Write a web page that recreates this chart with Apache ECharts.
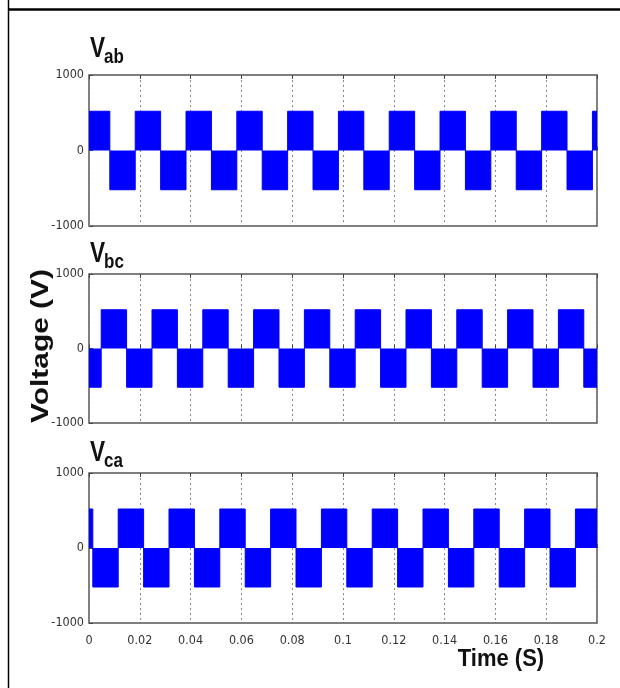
<!DOCTYPE html>
<html>
<head>
<meta charset="utf-8">
<script src="https://cdn.jsdelivr.net/npm/echarts@6/dist/echarts.min.js"></script>
<style>
html,body{margin:0;padding:0;background:#fff;}
#chart{width:620px;height:688px;}
</style>
</head>
<body>
<div id="chart"></div>
<script>
// ---- data ----
const timeTickLabels = ['0','0.02','0.04','0.06','0.08','0.1','0.12','0.14','0.16','0.18','0.2'];
const voltTickLabels = ['-1000','0','1000'];

const vabTimes  = [0, 0.0082, 0.0182, 0.0282, 0.0382, 0.0482, 0.0582, 0.0682, 0.0782, 0.0882, 0.0982,
                   0.1082, 0.1182, 0.1282, 0.1382, 0.1482, 0.1582, 0.1682, 0.1782, 0.1882, 0.1982, 0.2];
const vabLevels = [520, -520, 520, -520, 520, -520, 520, -520, 520, -520, 520,
                   -520, 520, -520, 520, -520, 520, -520, 520, -520, 520, 520];

const vbcTimes  = [0, 0.0048, 0.0148, 0.0248, 0.0348, 0.0448, 0.0548, 0.0648, 0.0748, 0.0848, 0.0948,
                   0.1048, 0.1148, 0.1248, 0.1348, 0.1448, 0.1548, 0.1648, 0.1748, 0.1848, 0.1948, 0.2];
const vbcLevels = [-520, 520, -520, 520, -520, 520, -520, 520, -520, 520, -520,
                   520, -520, 520, -520, 520, -520, 520, -520, 520, -520, -520];

const vcaTimes  = [0, 0.0015, 0.0115, 0.0215, 0.0315, 0.0415, 0.0515, 0.0615, 0.0715, 0.0815, 0.0915,
                   0.1015, 0.1115, 0.1215, 0.1315, 0.1415, 0.1515, 0.1615, 0.1715, 0.1815, 0.1915, 0.2];
const vcaLevels = [520, -520, 520, -520, 520, -520, 520, -520, 520, -520, 520,
                   -520, 520, -520, 520, -520, 520, -520, 520, -520, 520, 520];

const panelNames = ['ab', 'bc', 'ca'];
// ---- chart ----
const zip = (t, v) => t.map((x, i) => [x, v[i]]);
const seriesData = [zip(vabTimes, vabLevels), zip(vbcTimes, vbcLevels), zip(vcaTimes, vcaLevels)];

const NARROW = "'Liberation Sans Narrow', 'DejaVu Sans Condensed', 'Liberation Sans', Arial, sans-serif";
const BOLD = "'Liberation Sans', Arial, sans-serif";
const grids = [
  {left: 89, top: 75, width: 508, height: 151},
  {left: 89, top: 274, width: 508, height: 149},
  {left: 89, top: 473, width: 508, height: 150}
];

const option = {
  backgroundColor: '#fff',
  animation: false,
  grid: grids.map(g => Object.assign({show: true, borderColor: '#555', borderWidth: 1.5, backgroundColor: '#fff'}, g)),
  xAxis: [],
  yAxis: [],
  series: [],
  graphic: []
};

for (let i = 0; i < 3; i++) {
  option.xAxis.push({
    type: 'value', gridIndex: i, min: 0, max: 0.2, interval: 0.02,
    axisLine: {show: false},
    axisTick: {show: true, inside: true, length: 4, lineStyle: {color: '#444'}},
    axisLabel: {
      show: i === 2, color: '#333', fontFamily: NARROW, fontSize: 12.5, margin: 11,
      formatter: v => timeTickLabels[Math.round(v / 0.02)]
    },
    splitLine: {show: true, lineStyle: {color: '#888', type: [2, 3], width: 1}}
  });
  option.xAxis.push({
    type: 'value', gridIndex: i, position: 'top', min: 0, max: 0.2, interval: 0.02,
    axisLine: {show: false},
    axisTick: {show: true, inside: true, length: 4, lineStyle: {color: '#444'}},
    axisLabel: {show: false}, splitLine: {show: false}
  });
  option.yAxis.push({
    type: 'value', gridIndex: i, min: -1000, max: 1000, interval: 1000,
    axisLine: {show: false},
    axisTick: {show: true, inside: true, length: 4, lineStyle: {color: '#444'}},
    axisLabel: {
      color: '#333', fontFamily: NARROW, fontSize: 12.5, margin: 5,
      formatter: v => voltTickLabels[Math.round(v / 1000) + 1]
    },
    splitLine: {show: false}
  });
  option.series.push({
    type: 'line', xAxisIndex: i * 2, yAxisIndex: i, step: 'end',
    data: seriesData[i], symbol: 'none',
    lineStyle: {color: '#0000ff', width: 1},
    areaStyle: {color: '#0000ff', opacity: 1, origin: 0}
  });
}

// panel titles V_ab, V_bc, V_ca
const titleTops = [37, 242, 441];
titleTops.forEach((top, i) => {
  option.graphic.push({
    type: 'text', x: 90, y: top - 3, scaleX: 0.78,
    style: {text: 'V', font: "bold 29px " + BOLD, fill: '#111'}
  });
  option.graphic.push({
    type: 'text', x: 104, y: top + 10, scaleX: 0.85,
    style: {text: panelNames[i], font: "bold 20px " + BOLD, fill: '#111'}
  });
});

// axis titles
option.graphic.push({
  type: 'text', x: 42, y: 346, rotation: Math.PI / 2, scaleX: 1.3,
  style: {text: 'Voltage (V)', font: "bold 23px " + BOLD, fill: '#111',
          align: 'center', verticalAlign: 'middle'}
});
option.graphic.push({
  type: 'text', x: 501, y: 659, scaleY: 1.1,
  style: {text: 'Time (S)', font: "bold 22px " + BOLD, fill: '#111',
          align: 'center', verticalAlign: 'middle'}
});
// frame lines
option.graphic.push({type: 'line', shape: {x1: 8.5, y1: 0, x2: 8.5, y2: 688}, style: {stroke: '#000', lineWidth: 1.5}});
option.graphic.push({type: 'line', shape: {x1: 8, y1: 9.5, x2: 620, y2: 9.5}, style: {stroke: '#000', lineWidth: 2.5}});

const chart = echarts.init(document.getElementById('chart'), null, {renderer: 'canvas'});
chart.setOption(option);
</script>
</body>
</html>
